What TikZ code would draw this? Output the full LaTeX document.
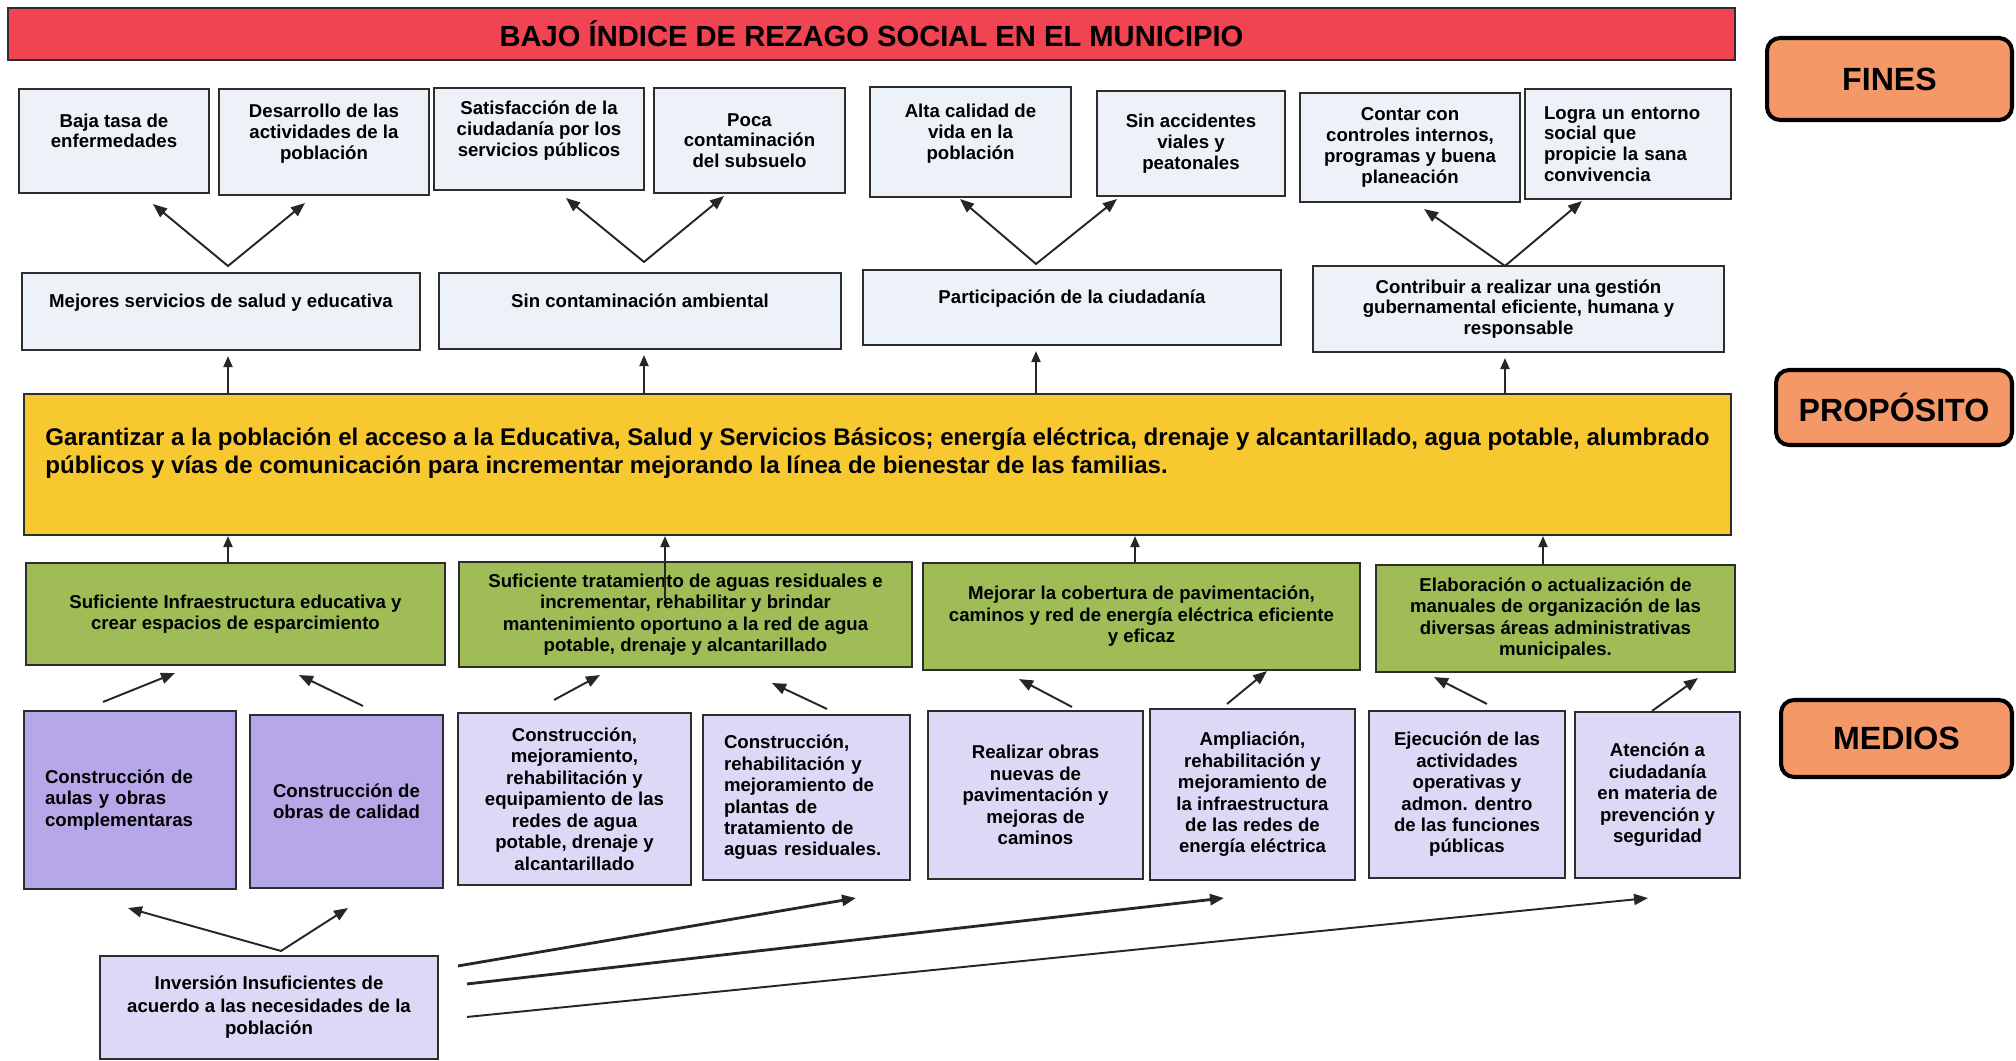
\documentclass[tikz,border=0pt]{standalone}
\usepackage{fontspec}
\setmainfont{Liberation Sans}
\usetikzlibrary{arrows.meta}
\definecolor{rojo}{RGB}{240, 68, 82}
\definecolor{naranja}{RGB}{244,152,103}
\definecolor{celeste}{RGB}{237,242,248}
\definecolor{amarillo}{RGB}{248,200, 48}
\definecolor{verde}{RGB}{159,188, 86}
\definecolor{lila}{RGB}{182,168,232}
\definecolor{lavanda}{RGB}{221,216,246}
\definecolor{borde}{RGB}{45, 45, 45}

\tikzset{
  >={Triangle[length=0.28cm,width=0.22cm]},
  caja/.style={draw=borde, line width=1.2pt, inner sep=0pt, align=center,
               font=\bfseries\fontsize{10.6}{11.8}\selectfont},
  fin/.style={caja, fill=celeste},
  comp/.style={caja, fill=verde, font=\bfseries\fontsize{10.6}{12.2}\selectfont},
  medio/.style={caja, fill=lavanda, font=\bfseries\fontsize{10.6}{12.2}\selectfont},
  etiqueta/.style={draw=black, line width=2.3pt, rounded corners=0.26cm, fill=naranja,
                   font=\bfseries\fontsize{18.3}{21}\selectfont},
  linea/.style={draw=black!85, line width=1.1pt},
  subir/.style={linea, shorten >=0.1cm, -{Triangle[length=0.22cm,width=0.18cm]}}
}

\begin{document}
\begin{tikzpicture}[x=0.02cm, y=-0.02cm]
\useasboundingbox (0,0) rectangle (2016,1061);

% encabezado y etiquetas
\node[draw=borde, line width=1pt, fill=rojo, minimum width=34.54cm, minimum height=1.04cm,
      font=\bfseries\fontsize{16.6}{18}\selectfont] (titulo) at (871.5,34) {BAJO ÍNDICE DE REZAGO SOCIAL EN EL MUNICIPIO};
\node[etiqueta, minimum width=4.90cm, minimum height=1.64cm] (lfines)  at (1889.5, 79.0) {FINES};
\node[etiqueta, minimum width=4.72cm, minimum height=1.50cm] (lprop)   at (1894.0,407.5) {PROPÓSITO};
\node[etiqueta, minimum width=4.62cm, minimum height=1.54cm] (lmedios) at (1896.5,738.5) {MEDIOS};

% fines
\node[fin, minimum width=3.80cm, minimum height=2.08cm] (f1) at ( 114.0,141.0) {Baja tasa de\\enfermedades\\~};
\node[fin, minimum width=4.20cm, minimum height=2.12cm] (f2) at ( 324.0,142.0) {Desarrollo de las\\actividades de la\\población\\~};
\node[fin, minimum width=4.20cm, minimum height=2.04cm] (f3) at ( 539.0,139.0) {Satisfacción de la\\ciudadanía por los\\servicios públicos\\~};
\node[fin, minimum width=3.82cm, minimum height=2.10cm] (f4) at ( 749.5,140.5) {Poca\\contaminación\\del subsuelo};
\node[fin, minimum width=4.02cm, minimum height=2.20cm] (f5) at ( 970.5,142.0) {Alta calidad de\\vida en la\\población\\~};
\node[fin, minimum width=3.76cm, minimum height=2.10cm] (f6) at (1191.0,143.5) {Sin accidentes\\viales y\\peatonales};
\node[fin, minimum width=4.40cm, minimum height=2.18cm] (f7) at (1410.0,147.5) {Contar con\\controles internos,\\programas y buena\\planeación};
\node[fin, minimum width=4.12cm, minimum height=2.20cm, text width=3.36cm, align=left] (f8) at (1628.0,144.0) {Logra un entorno\\social que\\propicie la sana\\convivencia};

\node[fin, minimum width=7.96cm, minimum height=1.54cm] (s1) at ( 221.0,311.5) {Mejores servicios de salud y educativa\\~};
\node[fin, minimum width=8.04cm, minimum height=1.52cm] (s2) at ( 640.0,311.0) {Sin contaminación ambiental\\~};
\node[fin, minimum width=8.36cm, minimum height=1.50cm] (s3) at (1072.0,307.5) {Participación de la ciudadanía\\~};
\node[fin, minimum width=8.22cm, minimum height=1.72cm] (s4) at (1518.5,309.0) {Contribuir a realizar una gestión\\gubernamental eficiente, humana y\\responsable};

% proposito
\node[draw=borde, line width=1.2pt, fill=amarillo, minimum width=34.14cm, minimum height=2.82cm, align=left,
      font=\bfseries\fontsize{13.7}{15.8}\selectfont] (prop) at (877.5,464.5)
     {Garantizar a la población el acceso a la Educativa, Salud y Servicios Básicos; energía eléctrica, drenaje y alcantarillado, agua potable, alumbrado\\públicos y vías de comunicación para incrementar mejorando la línea de bienestar de las familias.\\~};

% componentes
\node[comp, minimum width=8.38cm, minimum height=2.04cm] (c1) at ( 235.5,614.0) {Suficiente Infraestructura educativa y\\crear espacios de esparcimiento};
\node[comp, minimum width=9.06cm, minimum height=2.10cm] (c2) at ( 685.5,614.5) {Suficiente tratamiento de aguas residuales e\\incrementar, rehabilitar y brindar\\mantenimiento oportuno a la red de agua\\potable, drenaje y alcantarillado};
\node[comp, minimum width=8.74cm, minimum height=2.14cm] (c3) at (1141.5,616.5) {Mejorar la cobertura de pavimentación,\\caminos y red de energía eléctrica eficiente\\y eficaz};
\node[comp, minimum width=7.18cm, minimum height=2.14cm] (c4) at (1555.5,618.5) {Elaboración o actualización de\\manuales de organización de las\\diversas áreas administrativas\\municipales.};

% medios
\node[medio, fill=lila, minimum width=4.24cm, minimum height=3.56cm, text width=3.40cm, align=left] (a1) at ( 130.0,800.0) {Construcción de\\aulas y obras\\complementaras};
\node[medio, fill=lila, minimum width=3.86cm, minimum height=3.46cm] (a2) at ( 346.5,801.5) {Construcción de\\obras de calidad};
\node[medio, minimum width=4.66cm, minimum height=3.44cm] (a3) at ( 574.5,799.0) {Construcción,\\mejoramiento,\\rehabilitación y\\equipamiento de las\\redes de agua\\potable, drenaje y\\alcantarillado};
\node[medio, minimum width=4.14cm, minimum height=3.30cm, text width=3.30cm, align=left] (a4) at ( 806.5,797.5) {Construcción,\\rehabilitación y\\mejoramiento de\\plantas de\\tratamiento de\\aguas residuales.};
\node[medio, minimum width=4.30cm, minimum height=3.36cm] (a5) at (1035.5,795.0) {Realizar obras\\nuevas de\\pavimentación y\\mejoras de\\caminos};
\node[medio, minimum width=4.10cm, minimum height=3.42cm] (a6) at (1252.5,794.5) {Ampliación,\\rehabilitación y\\mejoramiento de\\la infraestructura\\de las redes de\\energía eléctrica};
\node[medio, minimum width=3.92cm, minimum height=3.34cm] (a7) at (1467.0,794.5) {Ejecución de las\\actividades\\operativas y\\admon. dentro\\de las funciones\\públicas};
\node[medio, minimum width=3.30cm, minimum height=3.32cm] (a8) at (1657.5,795.0) {Atención a\\ciudadanía\\en materia de\\prevención y\\seguridad};

\node[medio, minimum width=6.76cm, minimum height=2.06cm, font=\bfseries\fontsize{10.6}{12.8}\selectfont] (inv) at (269.0,1007.5) {Inversión Insuficientes de\\acuerdo a las necesidades de la\\población};

% flechas de fines
\coordinate (v1) at ([shift={(7,-6)}]s1.north);
\coordinate (v2) at ([shift={(4,-10)}]s2.north);
\coordinate (v3) at ([shift={(-36,-5)}]s3.north);
\coordinate (v4) at ([shift={(-13.5,1)}]s4.north);
\draw[<->, linea] ([shift={(39,10)}]f1.south)   -- (v1) -- ([shift={(-19,7)}]f2.south);
\draw[<->, linea] ([shift={(27,7)}]f3.south)    -- (v2) -- ([shift={(-25.5,2)}]f4.south);
\draw[<->, linea] ([shift={(-10.5,1)}]f5.south) -- (v3) -- ([shift={(-74,2)}]f6.south);
\draw[<->, linea] ([shift={(14,6)}]f7.south)    -- (v4) -- ([shift={(-46,1)}]f8.south);
\foreach \i in {1,...,4}
  \draw[subir] (prop.north -| v\i) -- (s\i.south -| v\i);

% componentes -> proposito
\coordinate (w1) at ([shift={(-7.5,0)}]c1.north);
\coordinate (w2) at ([shift={(-20.5,38)}]c2.north);
\coordinate (w3) at ([shift={(-6.5,0)}]c3.north);
\coordinate (w4) at ([shift={(-12.5,0)}]c4.north);
\foreach \i in {1,...,4}
  \draw[subir, shorten >=0pt] (w\i) -- (w\i |- prop.south);

% medios -> componentes
\draw[->, linea] ([shift={(-27,-8)}]a1.north)    -- ([shift={(-60.5,7)}]c1.south);
\draw[->, linea] ([shift={(16.5,-8)}]a2.north)   -- ([shift={(63.5,9)}]c1.south);
\draw[->, linea] ([shift={(-20.5,-12)}]a3.north) -- ([shift={(-85.5,7)}]c2.south);
\draw[->, linea] ([shift={(20.5,-5)}]a4.north)   -- ([shift={(86.5,15)}]c2.south);
\draw[->, linea] ([shift={(36.5,-3)}]a5.north)   -- ([shift={(-122.5,8)}]c3.south);
\draw[->, linea] ([shift={(-25.5,-4)}]a6.north)  -- ([shift={(125.5,0)}]c3.south);
\draw[->, linea] ([shift={(20,-6)}]a7.north)     -- ([shift={(-121.5,4)}]c4.south);
\draw[->, linea] ([shift={(-5.5,0)}]a8.north)    -- ([shift={(142.5,5)}]c4.south);

% inversion
\coordinate (vi) at ([shift={(12,-4)}]inv.north);
\draw[<->, linea] ([shift={(-2,18)}]a1.south) -- (vi) -- ([shift={(1.5,19)}]a2.south);
\draw[->, linea, line width=1.6pt] ([shift={(19,11)}]inv.north east) -- ([shift={(49.5,17)}]a4.south);
\draw[->, linea, line width=1.6pt] ([shift={(28,29)}]inv.north east) -- ([shift={(-28.5,17)}]a6.south);
\draw[->, linea] ([shift={(28,62)}]inv.north east) -- ([shift={(-9.5,19)}]a8.south);
\end{tikzpicture}
\end{document}
